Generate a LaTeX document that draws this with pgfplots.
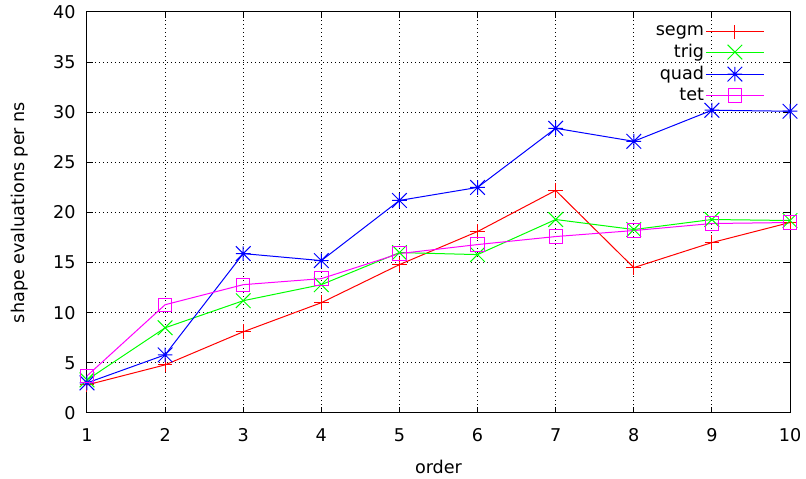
\documentclass[12pt,border=0pt]{standalone}
\usepackage{fontspec}
\setmainfont{DejaVu Sans}
\setsansfont{DejaVu Sans}
\usepackage{pgfplots}
\pgfplotsset{compat=1.18}
\usetikzlibrary{calc}

% gnuplot-like point types
\pgfdeclareplotmark{gpplus}{%
  \pgfpathmoveto{\pgfqpoint{-\pgfplotmarksize}{0pt}}\pgfpathlineto{\pgfqpoint{\pgfplotmarksize}{0pt}}%
  \pgfpathmoveto{\pgfqpoint{0pt}{-\pgfplotmarksize}}\pgfpathlineto{\pgfqpoint{0pt}{\pgfplotmarksize}}%
  \pgfusepathqstroke}
\pgfdeclareplotmark{gpx}{%
  \pgfpathmoveto{\pgfqpoint{-\pgfplotmarksize}{-\pgfplotmarksize}}\pgfpathlineto{\pgfqpoint{\pgfplotmarksize}{\pgfplotmarksize}}%
  \pgfpathmoveto{\pgfqpoint{-\pgfplotmarksize}{\pgfplotmarksize}}\pgfpathlineto{\pgfqpoint{\pgfplotmarksize}{-\pgfplotmarksize}}%
  \pgfusepathqstroke}
\pgfdeclareplotmark{gpast}{%
  \pgfpathmoveto{\pgfqpoint{-\pgfplotmarksize}{0pt}}\pgfpathlineto{\pgfqpoint{\pgfplotmarksize}{0pt}}%
  \pgfpathmoveto{\pgfqpoint{0pt}{-\pgfplotmarksize}}\pgfpathlineto{\pgfqpoint{0pt}{\pgfplotmarksize}}%
  \pgfpathmoveto{\pgfqpoint{-\pgfplotmarksize}{-\pgfplotmarksize}}\pgfpathlineto{\pgfqpoint{\pgfplotmarksize}{\pgfplotmarksize}}%
  \pgfpathmoveto{\pgfqpoint{-\pgfplotmarksize}{\pgfplotmarksize}}\pgfpathlineto{\pgfqpoint{\pgfplotmarksize}{-\pgfplotmarksize}}%
  \pgfusepathqstroke}

\definecolor{gpred}{HTML}{FF0000}
\definecolor{gpgreen}{HTML}{00FF00}
\definecolor{gpblue}{HTML}{0000FF}
\definecolor{gpmag}{HTML}{FF00FF}

\begin{document}
\fontsize{13.2}{15.5}\selectfont
\begin{tikzpicture}[font=\fontsize{13.2}{15.5}\selectfont]
\begin{axis}[
  name=ax,
  scale only axis,
  width=527.25pt, height=300.75pt,
  xmin=1, xmax=10, ymin=0, ymax=40,
  xtick={1,...,10}, ytick={0,5,...,40},
  tick align=inside,
  tick pos=both,
  major tick length=4.5pt,
  grid=major,
  grid style={black, line width=0.75pt, dash pattern=on 0.75pt off 2.25pt},
  axis line style={black, line width=0.75pt},
  every tick/.style={black, line width=0.75pt},
  tick label style={font=\fontsize{13.2}{15.5}\selectfont},
  label style={font=\fontsize{13.2}{15.5}\selectfont},
  /pgf/number format/assume math mode=true,
  xticklabel style={yshift=-7pt},
  yticklabel style={xshift=-4pt},
  xlabel={order},
  ylabel={shape evaluations per ns},
  xlabel style={yshift=-5pt},
  ylabel style={yshift=10pt},
  every axis plot/.append style={line width=0.75pt},
  legend plot pos=right,
  legend cell align=right,
  legend style={draw=none, fill=none, at={(rel axis cs:1,1)}, anchor=north east,
    xshift=-16pt, yshift=-7pt, row sep=2.5pt,
    nodes={inner sep=1pt}},
  legend image code/.code={\draw[mark repeat=2,mark phase=2,#1] plot coordinates {(0pt,0pt) (21.75pt,0pt) (43.5pt,0pt)};},
]
\addplot[color=gpred, mark=gpplus, mark size=5.5pt] coordinates {
  (1,2.8) (2,4.8) (3,8.1) (4,11.0) (5,14.8) (6,18.1) (7,22.2) (8,14.5) (9,17.0) (10,19.0)};
\addplot[color=gpgreen, mark=gpx, mark size=5.5pt] coordinates {
  (1,3.3) (2,8.5) (3,11.2) (4,12.8) (5,16.0) (6,15.8) (7,19.3) (8,18.3) (9,19.3) (10,19.2)};
\addplot[color=gpblue, mark=gpast, mark size=5.5pt] coordinates {
  (1,3.0) (2,5.8) (3,15.9) (4,15.2) (5,21.2) (6,22.5) (7,28.4) (8,27.1) (9,30.2) (10,30.1)};
\addplot[color=gpmag, mark=square, mark size=5pt] coordinates {
  (1,3.7) (2,10.8) (3,12.8) (4,13.4) (5,15.9) (6,16.8) (7,17.6) (8,18.2) (9,18.9) (10,19.0)};
\legend{segm, trig, quad, tet}
\coordinate (sw) at (rel axis cs:0,0);
\coordinate (ne) at (rel axis cs:1,1);
\end{axis}
\pgfresetboundingbox
\path[use as bounding box] ($(sw)+(-65.25pt,-49.5pt)$) rectangle ($(ne)+(12pt,9pt)$);
\end{tikzpicture}
\end{document}
